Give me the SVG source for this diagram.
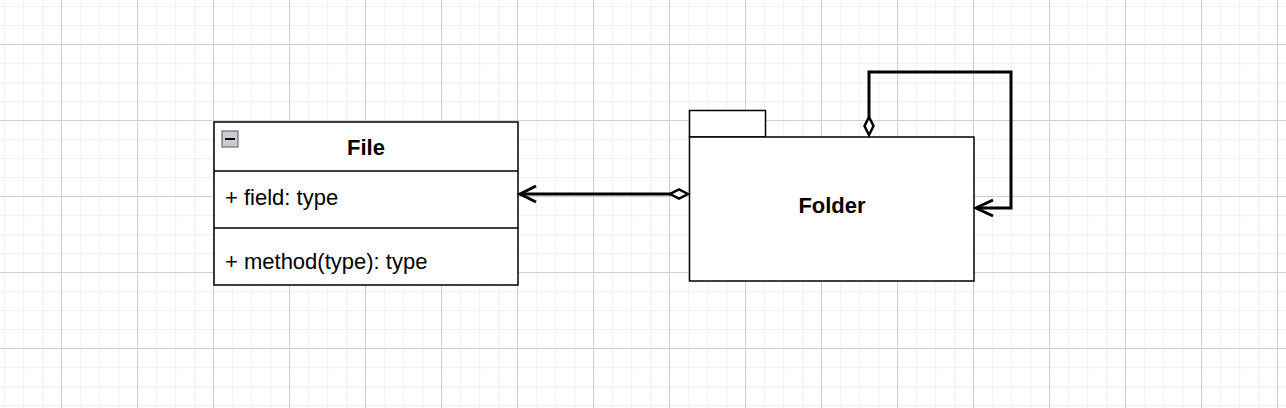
<svg xmlns="http://www.w3.org/2000/svg" width="1286" height="408" viewBox="0 0 1286 408">
<defs>
<pattern id="minor" width="19" height="19" patternUnits="userSpaceOnUse" x="4" y="6">
<path d="M0.5 0V19M0 0.5H19" fill="none" stroke="#f2f2f2" stroke-width="1.5"/>
</pattern>
<pattern id="major" width="76" height="76" patternUnits="userSpaceOnUse" x="61" y="44">
<path d="M0.5 0V76M0 0.5H76" fill="none" stroke="#d0d0d0" stroke-width="1"/>
</pattern>
</defs>
<style>
.box{fill:#fff;stroke:#000;stroke-width:1.5}
.t{font-family:"Liberation Sans",Arial,sans-serif;font-size:22px;fill:#000}
.b{font-weight:bold;text-anchor:middle;font-size:22px}
.edge{fill:none;stroke:#000;stroke-width:3}
.head{fill:none;stroke:#000;stroke-width:3}
.dia{fill:#fff;stroke:#000;stroke-width:2.5}
</style>
<rect width="1286" height="408" fill="#fff"/>
<rect width="1286" height="408" fill="url(#minor)"/>
<rect width="1286" height="408" fill="url(#major)"/>
<g id="File">
<rect class="box" x="214" y="122" width="304" height="163"/>
<line class="box" x1="214" y1="171" x2="518" y2="171"/>
<line class="box" x1="214" y1="228" x2="518" y2="228"/>
<rect x="222" y="131" width="16" height="16" fill="#c8ccd2" stroke="#6b6f76" stroke-width="1.2"/>
<line x1="225" y1="139" x2="235" y2="139" stroke="#000" stroke-width="2"/>
<text class="t b" x="366" y="155">File</text>
<text class="t" x="225" y="205">+ field: type</text>
<text class="t" x="225" y="269">+ method(type): type</text>
</g>
<g id="Folder">
<rect class="box" x="689.5" y="110.5" width="76" height="26.5"/>
<rect class="box" x="689.5" y="137" width="284.5" height="144"/>
<text class="t b" x="832" y="213">Folder</text>
</g>
<g id="connectors">
<path class="edge" d="M671 194 H521"/>
<path class="head" d="M536 186 L520 194 L536 202"/>
<path class="dia" d="M688 194 L679 189.5 L670 194 L679 198.5 Z"/>
<path class="edge" d="M869 118 V72 H1011 V208 H977"/>
<path class="head" d="M993 200 L976 208 L993 216"/>
<path class="dia" d="M869 135 L864.5 126 L869 117 L873.5 126 Z"/>
</g>
</svg>
